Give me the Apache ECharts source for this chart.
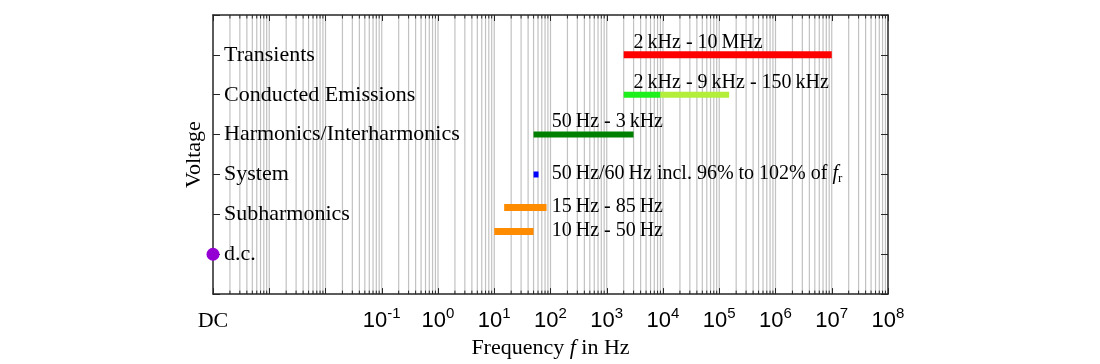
<!DOCTYPE html>
<html><head><meta charset="utf-8">
<script src="https://cdn.jsdelivr.net/npm/echarts@6/dist/echarts.min.js"></script>
<style>html,body{margin:0;padding:0;background:#fff}#c{width:1100px;height:364px}</style>
</head><body><div id="c"></div>
<script>
// ---- data ----
const categories = ['d.c.', 'Subharmonics', 'System', 'Harmonics/Interharmonics', 'Conducted Emissions', 'Transients'];
const categoryLevels = [1, 2, 3, 4, 5, 6];

const xTickExponents = [-4, -3, -2, -1, 0, 1, 2, 3, 4, 5, 6, 7, 8];
const xTickLabels = ['DC', '', '', '10^-1', '10^0', '10^1', '10^2', '10^3', '10^4', '10^5', '10^6', '10^7', '10^8'];

const rangeStartHz = [2000, 2000, 9000, 50, 50, 15, 10];
const rangeEndHz   = [1e7, 9000, 150000, 3000, 61.2, 85, 50];
const rangeLevel   = [6, 5, 5, 4, 3, 2.17, 1.57];

const dcLevel = 1;

const noteTexts = [
  '2\u2009kHz - 10\u2009MHz',
  '2\u2009kHz - 9\u2009kHz - 150\u2009kHz',
  '50\u2009Hz - 3\u2009kHz',
  '50\u2009Hz/60\u2009Hz incl. 96% to 102% of f_r',
  '15\u2009Hz - 85\u2009Hz',
  '10\u2009Hz - 50\u2009Hz'
];
const noteHz    = [3000, 3000, 105, 105, 105, 105];
const noteLevel = [6.3, 5.3, 4.33, 3.02, 2.18, 1.6];

// ---- styles ----
const rangeColors = ['#ff0000', '#1ef01e', '#b2ee3a', '#008000', '#0000ff', '#ff8c00', '#ff8c00'];
const rangeWidths = [7, 6, 6, 6, 6, 7, 7];
const SERIF = 'Liberation Serif';
const SANS = 'Liberation Sans';
const AXIS_COLOR = '#262626';

const xMin = xTickExponents[0], xMax = xTickExponents[xTickExponents.length - 1];
const yMin = 0, yMax = 7;

// grid line positions (axis structure: k * 10^n)
const gridData = [];
for (let n = xMin; n < xMax; n++) {
  for (let k = 1; k <= 9; k++) {
    if (n === xMin && k === 1) continue;
    gridData.push([Math.log10(k * Math.pow(10, n)), k === 1 ? 1 : 0]);
  }
}

const series = [];
series.push({
  type: 'custom', silent: true, z: 1, clip: false,
  data: gridData,
  renderItem: function (params, api) {
    const x = api.value(0), major = api.value(1);
    const b = api.coord([x, yMin]), t = api.coord([x, yMax]);
    const ch = [{ type: 'line', shape: { x1: b[0], y1: b[1], x2: t[0], y2: t[1] }, style: { stroke: '#c2c2c2', lineWidth: 1.2 } }];
    if (!major) {
      ch.push({ type: 'line', shape: { x1: b[0], y1: b[1], x2: b[0], y2: b[1] - 3.5 }, style: { stroke: AXIS_COLOR, lineWidth: 1 } });
      ch.push({ type: 'line', shape: { x1: t[0], y1: t[1], x2: t[0], y2: t[1] + 3.5 }, style: { stroke: AXIS_COLOR, lineWidth: 1 } });
    }
    return { type: 'group', children: ch };
  }
});

for (let i = 0; i < rangeStartHz.length; i++) {
  series.push({
    type: 'line', silent: true, z: 4, symbol: 'none',
    data: [[Math.log10(rangeStartHz[i]), rangeLevel[i]], [Math.log10(rangeEndHz[i]), rangeLevel[i]]],
    lineStyle: { color: rangeColors[i], width: rangeWidths[i], cap: 'butt', opacity: 1 }
  });
}

series.push({
  type: 'scatter', silent: true, z: 6, symbol: 'circle', symbolSize: 13,
  itemStyle: { color: '#9400d3', opacity: 1 },
  data: [[xMin, dcLevel]]
});

series.push({
  type: 'scatter', silent: true, z: 6, symbolSize: 0,
  itemStyle: { opacity: 1 },
  data: noteTexts.map((s, i) => ({ name: s, value: [Math.log10(noteHz[i]), noteLevel[i]] })),
  label: {
    show: true, position: 'right', distance: 0, color: '#000', textBorderWidth: 0,
    formatter: p => '{t|' + p.name.replace('f_r', '}{i|f}{sub|r') + '}',
    rich: {
      t: { fontFamily: SERIF, fontSize: 20, color: '#000', lineHeight: 22 },
      i: { fontFamily: SERIF, fontSize: 20, fontStyle: 'italic', color: '#000', lineHeight: 22 },
      sub: { fontFamily: SERIF, fontSize: 13, color: '#000', lineHeight: 12, verticalAlign: 'bottom' }
    }
  }
});

const xAxisCommon = { type: 'value', min: xMin, max: xMax, interval: 1, splitLine: { show: false } };
const yAxisCommon = { type: 'value', min: yMin, max: yMax, interval: 1, splitLine: { show: false } };
const boxLine = { show: true, onZero: false, lineStyle: { color: AXIS_COLOR, width: 1.5 } };

const option = {
  animation: false,
  grid: { left: 213, right: 212, top: 15, bottom: 68, containLabel: false },
  xAxis: [
    Object.assign({}, xAxisCommon, {
      position: 'bottom', z: 3,
      axisLine: boxLine,
      axisTick: { show: true, inside: true, length: 6, lineStyle: { color: AXIS_COLOR, width: 1 } },
      axisLabel: {
        show: true, interval: 0, margin: 12, showMinLabel: true, showMaxLabel: true, hideOverlap: false,
        formatter: function (v) {
          const idx = xTickExponents.indexOf(Math.round(v));
          const s = idx >= 0 ? xTickLabels[idx] : '';
          if (!s) return '';
          if (s.indexOf('10^') === 0) return '{b|10}{s|' + s.slice(3) + '}';
          return '{dc|' + s + '}';
        },
        rich: {
          b: { fontFamily: SANS, fontSize: 22, color: '#000', lineHeight: 26, verticalAlign: 'bottom' },
          s: { fontFamily: SANS, fontSize: 15, color: '#000', lineHeight: 10, verticalAlign: 'top' },
          dc: { fontFamily: SERIF, fontSize: 22, color: '#000', lineHeight: 26, verticalAlign: 'bottom' }
        }
      },
      name: '{n|Frequency }{i|f}{n| in Hz}', nameLocation: 'middle', nameGap: 39,
      nameTextStyle: {
        rich: {
          n: { fontFamily: SERIF, fontSize: 22, color: '#000', lineHeight: 24 },
          i: { fontFamily: SERIF, fontSize: 22, fontStyle: 'italic', color: '#000', lineHeight: 24 }
        }
      }
    }),
    Object.assign({}, xAxisCommon, {
      position: 'top', z: 3,
      axisLine: boxLine,
      axisTick: { show: true, inside: true, length: 6, lineStyle: { color: AXIS_COLOR, width: 1 } },
      axisLabel: { show: false }
    })
  ],
  yAxis: [
    Object.assign({}, yAxisCommon, {
      position: 'left', z: 3,
      axisLine: boxLine,
      axisTick: { show: true, inside: true, length: 7, lineStyle: { color: AXIS_COLOR, width: 1 } },
      axisLabel: {
        show: true, inside: true, margin: 11, interval: 0,
        fontFamily: SERIF, fontSize: 22, color: '#000',
        formatter: function (v) {
          const idx = categoryLevels.indexOf(Math.round(v));
          return idx >= 0 ? categories[idx] : '';
        }
      },
      name: 'Voltage', nameLocation: 'middle', nameGap: 3, nameRotate: 90,
      nameTextStyle: { fontFamily: SERIF, fontSize: 22, color: '#000' }
    }),
    Object.assign({}, yAxisCommon, {
      position: 'right', z: 3,
      axisLine: boxLine,
      axisTick: { show: true, inside: true, length: 7, lineStyle: { color: AXIS_COLOR, width: 1 } },
      axisLabel: { show: false }
    })
  ],
  series: series
};

const chart = echarts.init(document.getElementById('c'), null, { renderer: 'canvas' });
chart.setOption(option);
</script>
</body></html>
